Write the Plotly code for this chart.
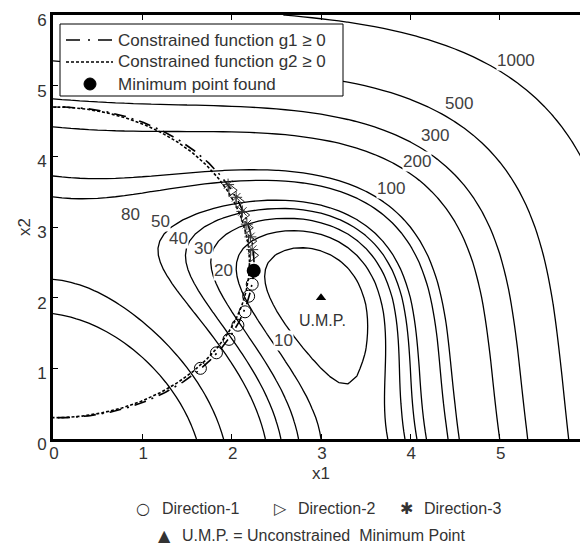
import numpy as np
import plotly.graph_objects as go

# ---------------- data ----------------
# objective (Himmelblau) evaluated on a regular grid
grid_x1 = np.round(np.arange(0.0, 6.0001, 0.1), 4)
grid_x2 = np.round(np.arange(0.0, 6.0001, 0.1), 4)

def objective(a, b):
    return (a ** 2 + b - 11) ** 2 + (a + b ** 2 - 7) ** 2

contour_levels = [10, 20, 30, 40, 50, 80, 100, 200, 300, 500, 1000]
label_text = ["10", "20", "30", "40", "50", "80", "100", "200", "300", "500", "1000"]
label_x1 = [2.58, 1.91, 1.68, 1.41, 1.20, 0.87, 3.78, 4.07, 4.28, 4.54, 5.18]
label_x2 = [1.39, 2.39, 2.70, 2.84, 3.08, 3.17, 3.55, 3.93, 4.29, 4.75, 5.35]

# constraint circles: g1 = r^2 - (x1-c1)^2 - (x2-c2)^2 >= 0 ; g2 = (x1-d1)^2 + (x2-d2)^2 - r^2 >= 0
g1_center = (0.05, 2.5)
g2_center = (0.0, 2.5)
g_radius = 2.2
theta = np.linspace(0, 2 * np.pi, 721)

dir1_x1 = [1.65, 1.83, 1.97, 2.07, 2.15, 2.19, 2.23]
dir1_x2 = [1.00, 1.22, 1.41, 1.61, 1.80, 2.02, 2.19]
dir2_x1 = [2.00, 2.08, 2.14, 2.18, 2.22, 2.24]
dir2_x2 = [3.52, 3.36, 3.17, 2.99, 2.80, 2.60]
dir3_x1 = [1.96, 2.05, 2.12, 2.17, 2.21, 2.23]
dir3_x2 = [3.60, 3.42, 3.22, 3.04, 2.86, 2.68]
min_found = (2.247, 2.382)
ump = (3.0, 2.0)

# ---------------- figure ----------------
W, H = 588, 544
L, R, T, B = 45, 7, 7, 113
PW, PH = W - L - R, H - T - B

def px(xp):
    return (xp - L) / PW

def py(yp):
    return (T + PH - yp) / PH

TXT = "#333333"
FONT = "Liberation Sans, Arial, sans-serif"

X, Y = np.meshgrid(grid_x1, grid_x2)
Z = objective(X, Y)

fig = go.Figure()
for lv in contour_levels:
    fig.add_trace(go.Contour(
        x=grid_x1, y=grid_x2, z=Z,
        contours=dict(start=lv, end=lv + 0.5, size=1, coloring="lines", showlabels=False),
        line=dict(width=1.3, smoothing=0),
        colorscale=[[0, "black"], [1, "black"]],
        showscale=False, hoverinfo="skip", showlegend=False,
    ))

c1x = g1_center[0] + g_radius * np.cos(theta)
c1y = g1_center[1] + g_radius * np.sin(theta)
c2x = g2_center[0] + g_radius * np.cos(theta)
c2y = g2_center[1] + g_radius * np.sin(theta)
fig.add_trace(go.Scatter(x=c2x, y=c2y, mode="lines",
                         line=dict(color="black", width=1.6, dash="3px,2px"),
                         showlegend=False, hoverinfo="skip"))
fig.add_trace(go.Scatter(x=c1x, y=c1y, mode="lines",
                         line=dict(color="black", width=1.6, dash="12px,6px,2px,6px"),
                         showlegend=False, hoverinfo="skip"))

fig.add_trace(go.Scatter(x=dir1_x1, y=dir1_x2, mode="markers",
                         marker=dict(symbol="circle-open", size=12, color="black", line=dict(width=1)),
                         showlegend=False))
fig.add_trace(go.Scatter(x=dir2_x1, y=dir2_x2, mode="markers",
                         marker=dict(symbol="triangle-right-open", size=11, color="#222", line=dict(width=1)),
                         showlegend=False))
fig.add_trace(go.Scatter(x=dir3_x1, y=dir3_x2, mode="markers",
                         marker=dict(symbol="asterisk-open", size=10, color="#333", line=dict(width=1)),
                         showlegend=False))
fig.add_trace(go.Scatter(x=[min_found[0]], y=[min_found[1]], mode="markers",
                         marker=dict(symbol="circle", size=14, color="black"),
                         showlegend=False))
fig.add_trace(go.Scatter(x=[ump[0]], y=[ump[1]], mode="markers",
                         marker=dict(symbol="triangle-up", size=9, color="black"),
                         showlegend=False))

annotations = []
for t, ax_, ay_ in zip(label_text, label_x1, label_x2):
    annotations.append(dict(x=ax_, y=ay_, xref="x", yref="y", text=t, showarrow=False,
                            font=dict(size=17, color="#404040", family=FONT),
                            bgcolor="white", borderpad=0))
annotations.append(dict(x=3.02, y=1.68, xref="x", yref="y", text="U.M.P.", showarrow=False,
                        font=dict(size=16, color=TXT, family=FONT)))

# manual legend
shapes = []
shapes.append(dict(type="rect", xref="paper", yref="paper", x0=px(52), x1=px(335), y0=py(88), y1=py(16),
                   line=dict(color="black", width=1), fillcolor="white", layer="above"))
shapes.append(dict(type="line", xref="paper", yref="paper", x0=px(58), x1=px(105), y0=py(32), y1=py(32),
                   line=dict(color="black", width=1.6, dash="14px,8px,2px,8px"), layer="above"))
shapes.append(dict(type="line", xref="paper", yref="paper", x0=px(58), x1=px(105), y0=py(54), y1=py(54),
                   line=dict(color="black", width=1.6, dash="3px,2px"), layer="above"))
shapes.append(dict(type="circle", xref="paper", yref="paper", xsizemode="pixel", ysizemode="pixel",
                   xanchor=px(82), yanchor=py(76), x0=-6, x1=6, y0=-6, y1=6,
                   line=dict(color="black", width=1), fillcolor="black", layer="above"))
leg_items = [("Constrained function g1 ≥ 0", 32), ("Constrained function g2 ≥ 0", 54), ("Minimum point found", 76)]
for t, yy in leg_items:
    annotations.append(dict(x=px(108), y=py(yy), xref="paper", yref="paper", text=t, showarrow=False,
                            xanchor="left", yanchor="middle", font=dict(size=17, color=TXT, family=FONT)))

# bottom explanation
bottom = [("○", 135, 501, "center"), ("Direction-1", 152, 501, "left"),
          ("▷", 272, 501, "center"), ("Direction-2", 288, 501, "left"),
          ("✱", 398, 501, "center"), ("Direction-3", 414, 501, "left"),
          ("▲", 156, 527, "center"), ("U.M.P. = Unconstrained  Minimum Point", 172, 527, "left")]
for t, xx, yy, anc in bottom:
    annotations.append(dict(x=px(xx), y=py(yy), xref="paper", yref="paper", text=t, showarrow=False,
                            xanchor=anc, yanchor="middle",
                            font=dict(size=16, color=TXT, family=FONT if anc == "left" else "DejaVu Sans")))

axis_common = dict(range=[0, 6], tickvals=[0, 1, 2, 3, 4, 5, 6], showgrid=False, zeroline=False,
                   showline=True, linecolor="black", linewidth=3, mirror="ticks",
                   ticks="inside", ticklen=5, tickwidth=1, tickcolor="black", automargin=False,
                   tickfont=dict(size=17, color=TXT, family=FONT))
fig.update_layout(
    width=W, height=H, margin=dict(l=L, r=R, t=T, b=B, autoexpand=False),
    paper_bgcolor="white", plot_bgcolor="white",
    xaxis=dict(**axis_common, ticklabelshift=1, ticklabelstandoff=-3,
               title=dict(text="x1", font=dict(size=17, color=TXT, family=FONT), standoff=5)),
    yaxis=dict(**axis_common, ticklabelshift=5,
               title=dict(text="x2", font=dict(size=17, color=TXT, family=FONT), standoff=3)),
    shapes=shapes, annotations=annotations, showlegend=False,
)
fig.write_html("out.html")
